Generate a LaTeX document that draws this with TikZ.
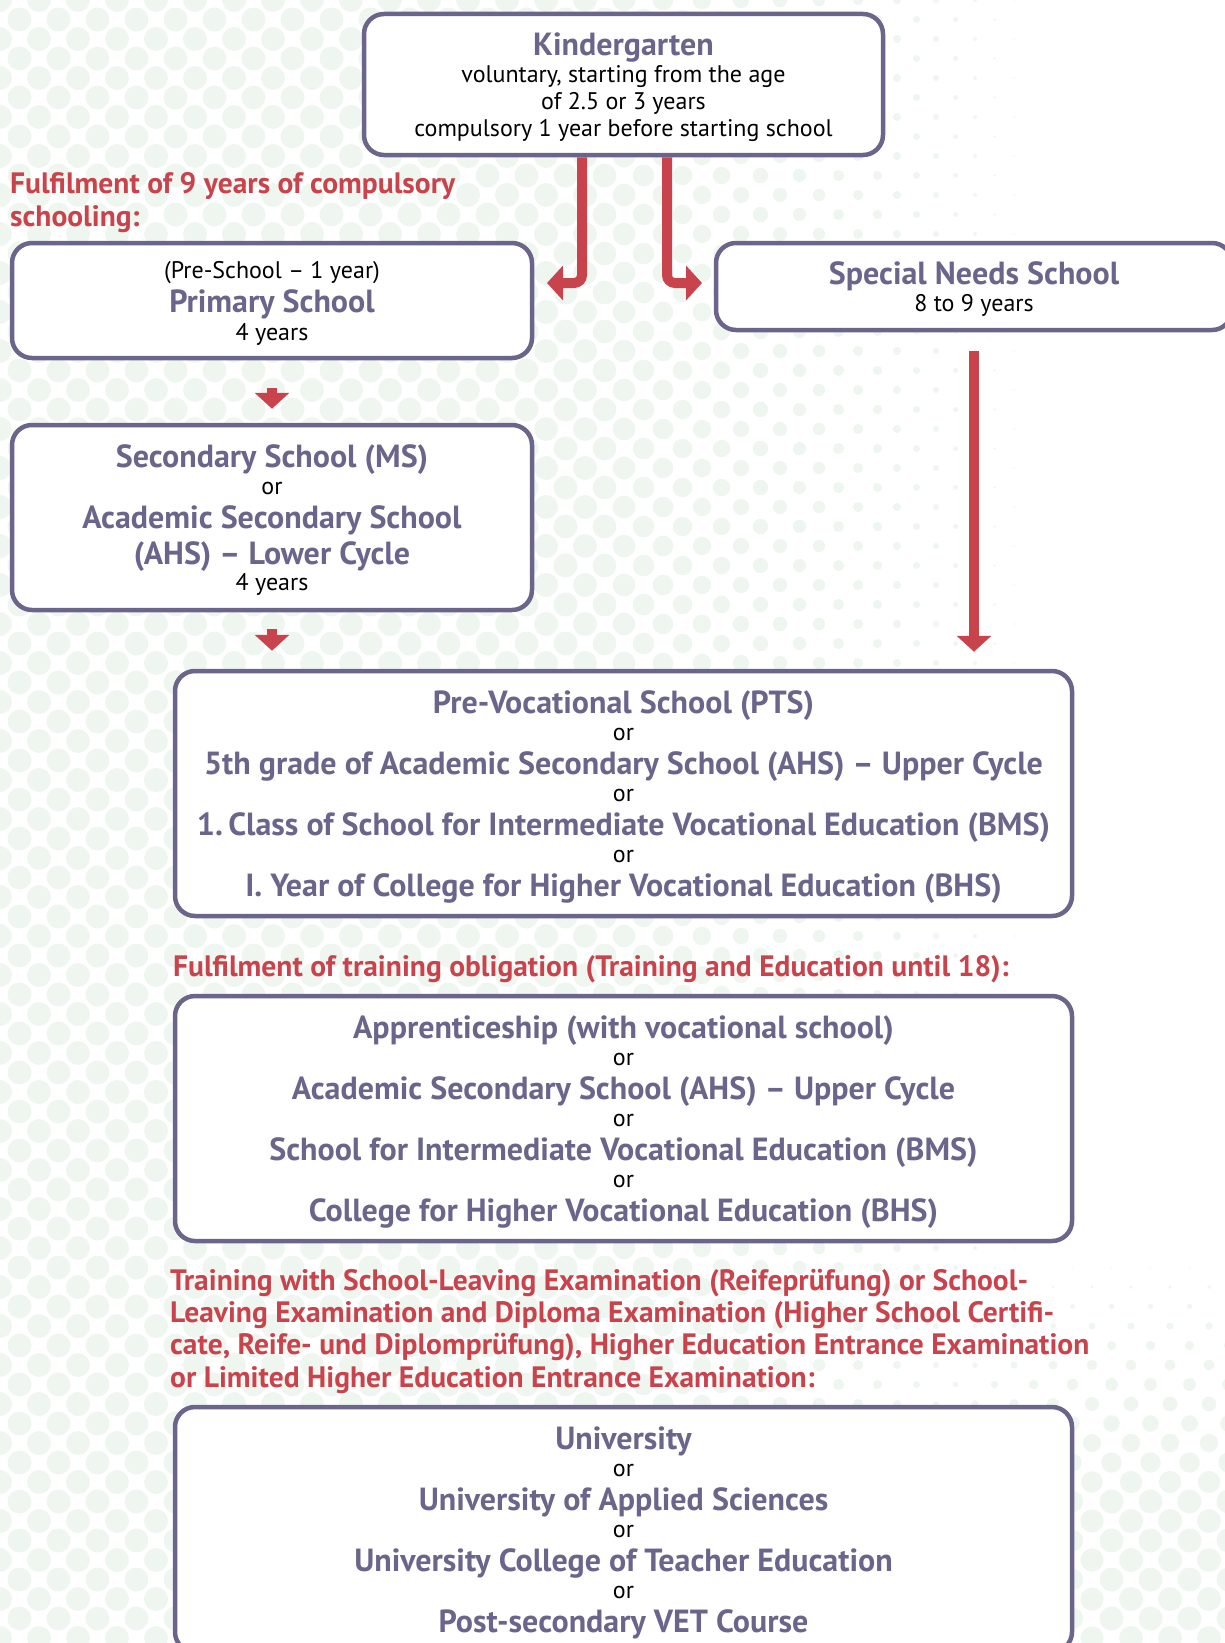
\documentclass[tikz,border=0pt]{standalone}
\usepackage{fontspec}
\setmainfont{PT Sans}
\usetikzlibrary{arrows.meta}
\definecolor{ink}{HTML}{6B658C}
\definecolor{warn}{HTML}{C8434C}
\definecolor{dotgreen}{HTML}{EFF6F0}
\newcommand{\hd}[1]{{\fontsize{32}{27}\selectfont\bfseries\color{ink}#1}}
\lineskiplimit=-100pt
\tikzset{
  box/.style={draw=ink, line width=4.5pt, rounded corners=20pt, fill=white,
    align=center, inner sep=0pt, text depth=0pt, font=\fontsize{24}{27}\selectfont},
  note/.style={text=warn, font=\bfseries\fontsize{29.5}{32.2}\selectfont,
    align=left, anchor=base west, inner sep=0pt},
  arr/.style={draw=warn, line width=10pt, -{Triangle[width=34pt,length=16pt]}}
}
\begin{document}
\begin{tikzpicture}[x=1pt,y=-1pt]
\useasboundingbox (0,0) rectangle (1224,1643);
% background dots
\foreach \row in {0,...,85} {
  \foreach \col in {0,...,32} {
    \pgfmathsetmacro\dx{\col*39+mod(\row,2)*19.5}
    \pgfmathsetmacro\dy{\row*19.5}
    \pgfmathsetmacro\rad{12*max(min(max((1050-\dx)/450,0),1),min(max((\dy-1250)/250,0),1)*min(max((\dx-850)/250,0),1))}
    \ifdim\rad pt>0.6pt \fill[dotgreen] (\dx,\dy) circle (\rad pt); \fi
  }
}
% boxes
\node[box, minimum width=519pt, minimum height=141pt] (kinder) at (623.5,84.5)
  {\hd{Kindergarten}\\ voluntary, starting from the age\\ of 2.5 or 3 years\\ compulsory 1 year before starting school};
\node[box, minimum width=520pt, minimum height=115pt] (primary) at (272,300.5)
  {(Pre-School -- 1 year)\\[7pt] \hd{Primary School}\\[1pt] 4 years};
\node[box, minimum width=516pt, minimum height=87pt] (special) at (974,286.5)
  {\hd{Special Needs School}\\ 8 to 9 years};
\node[box, minimum width=520pt, minimum height=185pt] (secondary) at (272,517.5)
  {\hd{Secondary School (MS)}\\ or\\[7pt] \hd{Academic Secondary School}\\[9pt] \hd{(AHS) -- Lower Cycle}\\[-1pt] 4 years};
\node[box, minimum width=897pt, minimum height=245pt] (pts) at (623.5,793.5)
  {\hd{Pre-Vocational School (PTS)}\\ or\\[7pt] \hd{5th grade of Academic Secondary School (AHS) -- Upper Cycle}\\ or\\[7pt] \hd{1.\,Class of School for Intermediate Vocational Education (BMS)}\\ or\\[7pt] \hd{I. Year of College for Higher Vocational Education (BHS)}};
\node[box, minimum width=897pt, minimum height=245pt] (training) at (623.5,1118.5)
  {\hd{Apprenticeship (with vocational school)}\\ or\\[7pt] \hd{Academic Secondary School (AHS) -- Upper Cycle}\\ or\\[7pt] \hd{School for Intermediate Vocational Education (BMS)}\\ or\\[7pt] \hd{College for Higher Vocational Education (BHS)}};
\node[box, minimum width=897pt, minimum height=245pt] (higher) at (623.5,1529.5)
  {\hd{University}\\ or\\[7pt] \hd{University of Applied Sciences}\\ or\\[7pt] \hd{University College of Teacher Education}\\ or\\[7pt] \hd{Post-secondary VET Course}};
% red notes
\node[note] (compulsory) at (10,226) {Fulfilment of 9 years of compulsory\\ schooling:};
\node[note] (obligation) at (173,976) {Fulfilment of training obligation (Training and Education until 18):};
\node[note] (exam) at (170,1387) {Training with School-Leaving Examination (Reifeprüfung) or School-\\ Leaving Examination and Diploma Examination (Higher School Certifi-\\ cate, Reife- und Diplomprüfung), Higher Education Entrance Examination\\ or Limited Higher Education Entrance Examination:};
% arrows
\coordinate (toprimary) at (547,283);
\coordinate (tospecial) at (702,283);
\draw[arr, rounded corners=8pt] (kinder.south -| 582,0) |- (toprimary);
\draw[arr, rounded corners=8pt] (kinder.south -| 667,0) |- (tospecial);
\draw[arr, shorten <=28pt, shorten >=14pt] (primary.south) -- (secondary.north);
\draw[arr, shorten <=17pt, shorten >=18pt] (secondary.south) -- (secondary.south |- pts.north);
\draw[arr, shorten <=19pt, shorten >=17pt] (special.south) -- (special.south |- pts.north);
\end{tikzpicture}
\end{document}
